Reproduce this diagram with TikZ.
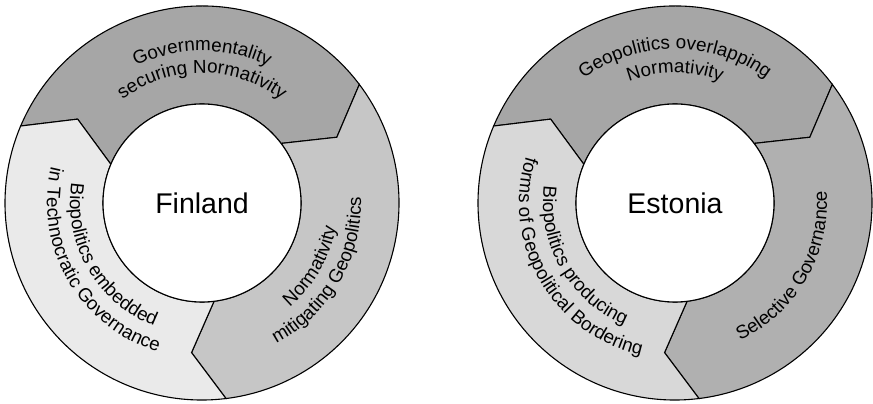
\documentclass[tikz,border=0pt]{standalone}
\usepackage{fontspec}
\setmainfont{Liberation Sans}
\usetikzlibrary{decorations.text}
\newcommand\ringfont{\fontsize{18.8}{22}\selectfont}
\definecolor{fTop}{HTML}{A6A6A6}
\definecolor{fRight}{HTML}{C6C6C6}
\definecolor{fLeft}{HTML}{EAEAEA}
\definecolor{eTop}{HTML}{A6A6A6}
\definecolor{eRight}{HTML}{B0B0B0}
\definecolor{eLeft}{HTML}{D8D8D8}
\begin{document}
\begin{tikzpicture}[x=1pt,y=1pt,
  seg/.style={draw=black, line width=1.1pt, line join=miter},
  hub/.style={circle, draw=black, line width=1.1pt, fill=white, minimum size=198pt, inner sep=0pt, font=\fontsize{28.5}{31}\selectfont},
  arctext/.style={decorate, decoration={text along path, text align=center, text={#1}}}
]
\useasboundingbox (0,0) rectangle (873,404);

% ---------------- Finland ----------------
\begin{scope}[shift={(202,201)}]
  \path[seg, fill=fTop] (157:197) arc[start angle=157, end angle=37, radius=197] -- (26:150) -- (37:99) arc[start angle=37, end angle=157, radius=99] -- (146:150) -- cycle;
  \path[seg, fill=fRight] (37:197) arc[start angle=37, end angle=-83, radius=197] -- (-94:150) -- (-83:99) arc[start angle=-83, end angle=37, radius=99] -- (26:150) -- cycle;
  \path[seg, fill=fLeft] (277:197) arc[start angle=277, end angle=157, radius=197] -- (146:150) -- (157:99) arc[start angle=157, end angle=277, radius=99] -- (266:150) -- cycle;
  \node[hub] (finland) at (0,0) {Finland};
  \path[arctext={|\ringfont|Governmentality}] (150:152) arc[start angle=150, end angle=30, radius=152];
  \path[arctext={|\ringfont|securing Normativity}] (150:130) arc[start angle=150, end angle=30, radius=130];
  \path[arctext={|\ringfont|Biopolitics embedded}] (140:132) arc[start angle=140, end angle=280, radius=132];
  \path[arctext={|\ringfont|in Technocratic Governance}] (140:155) arc[start angle=140, end angle=280, radius=155];
  \path[arctext={|\ringfont|Normativity}] (-100:136) arc[start angle=-100, end angle=40, radius=136];
  \path[arctext={|\ringfont|mitigating Geopolitics}] (-100:159) arc[start angle=-100, end angle=40, radius=159];
\end{scope}

% ---------------- Estonia ----------------
\begin{scope}[shift={(675,201)}]
  \path[seg, fill=eTop] (157:197) arc[start angle=157, end angle=37, radius=197] -- (26:150) -- (37:99) arc[start angle=37, end angle=157, radius=99] -- (146:150) -- cycle;
  \path[seg, fill=eRight] (37:197) arc[start angle=37, end angle=-83, radius=197] -- (-94:150) -- (-83:99) arc[start angle=-83, end angle=37, radius=99] -- (26:150) -- cycle;
  \path[seg, fill=eLeft] (277:197) arc[start angle=277, end angle=157, radius=197] -- (146:150) -- (157:99) arc[start angle=157, end angle=277, radius=99] -- (266:150) -- cycle;
  \node[hub] (estonia) at (0,0) {Estonia};
  \path[arctext={|\ringfont|Geopolitics overlapping}] (150:154) arc[start angle=150, end angle=30, radius=154];
  \path[arctext={|\ringfont|Normativity}] (150:130) arc[start angle=150, end angle=30, radius=130];
  \path[arctext={|\ringfont|Biopolitics producing}] (140:132) arc[start angle=140, end angle=280, radius=132];
  \path[arctext={|\ringfont|forms of Geopolitical Bordering}] (140:156) arc[start angle=140, end angle=280, radius=156];
  \path[arctext={|\ringfont|Selective Governance}] (-100:152) arc[start angle=-100, end angle=40, radius=152];
\end{scope}
\end{tikzpicture}
\end{document}
